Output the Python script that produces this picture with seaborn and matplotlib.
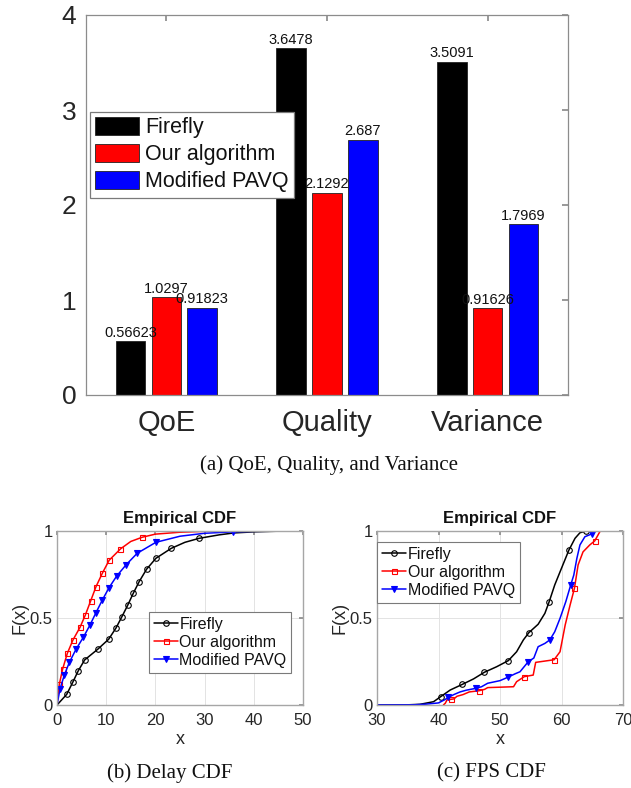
import numpy as np
import pandas as pd
import matplotlib
matplotlib.use('Agg')
import matplotlib.pyplot as plt
import seaborn as sns

# ---------------- data ----------------
metrics = ['QoE', 'Quality', 'Variance']
methods = ['Firefly', 'Our algorithm', 'Modified PAVQ']
firefly_vals = [0.56623, 3.6478, 3.5091]
ours_vals = [1.0297, 2.1292, 0.91626]
pavq_vals = [0.91823, 2.687, 1.7969]
bar_colors = ['#000000', '#ff0000', '#0000ff']

# Delay CDF (x, F) readings
delay_firefly_x = [0, 1.97, 3.19, 4.33, 5.62, 8.26, 10.5, 12.0, 13.2, 14.4, 15.5, 16.7, 18.2, 20.1, 23.2, 26.0, 28.9, 33, 36, 40, 45, 50]
delay_firefly_F = [0, 0.061, 0.130, 0.197, 0.259, 0.320, 0.378, 0.443, 0.508, 0.575, 0.642, 0.709, 0.780, 0.843, 0.900, 0.935, 0.958, 0.978, 0.989, 0.995, 0.999, 1.0]
delay_firefly_marks = [1, 2, 3, 4, 5, 6, 7, 8, 9, 10, 11, 12, 13, 14, 16]

delay_ours_x = [0, 0.47, 1.15, 2.10, 3.25, 4.67, 5.76, 6.84, 7.93, 9.21, 10.6, 12.9, 15, 17.3, 20, 25, 30, 40, 50]
delay_ours_F = [0, 0.119, 0.207, 0.297, 0.374, 0.446, 0.517, 0.598, 0.680, 0.757, 0.832, 0.897, 0.940, 0.964, 0.982, 0.993, 0.998, 1.0, 1.0]
delay_ours_marks = [1, 2, 3, 4, 5, 6, 7, 8, 9, 10, 11, 13]

delay_pavq_x = [0, 0.61, 1.49, 2.51, 3.86, 5.35, 6.71, 7.93, 9.21, 10.57, 12.13, 14.02, 16.3, 20.1, 25, 30, 35.8, 40, 50]
delay_pavq_F = [0, 0.092, 0.172, 0.245, 0.320, 0.389, 0.460, 0.531, 0.603, 0.674, 0.741, 0.805, 0.872, 0.935, 0.970, 0.987, 0.995, 0.998, 1.0]
delay_pavq_marks = [1, 2, 3, 4, 5, 6, 7, 8, 9, 10, 11, 12, 13, 16]

# FPS CDF (x, F) readings
fps_firefly_x = [30, 35, 37, 39.2, 40.36, 41.9, 43.9, 45.7, 47.45, 49.46, 51.35, 52.7, 53.8, 54.7, 56.2, 57.3, 58.0, 58.9, 60.0, 61.2, 62.2, 63.0, 64.0, 65.2]
fps_firefly_F = [0, 0.001, 0.004, 0.019, 0.048, 0.086, 0.119, 0.150, 0.188, 0.220, 0.255, 0.306, 0.374, 0.416, 0.464, 0.527, 0.594, 0.690, 0.786, 0.890, 0.958, 0.990, 1.0, 1.0]
fps_firefly_marks = [4, 6, 8, 10, 13, 16, 19, 22]

fps_ours_x = [40.8, 41.1, 41.4, 42.1, 42.5, 43, 44, 45, 46.6, 47.5, 48, 52.2, 52.7, 53.95, 55.4, 55.8, 58.8, 59.76, 60.6, 61.4, 62.1, 62.7, 63.5, 64.6, 65.4, 66.3]
fps_ours_F = [0, 0.01, 0.03, 0.033, 0.035, 0.05, 0.06, 0.075, 0.082, 0.09, 0.10, 0.105, 0.134, 0.163, 0.172, 0.245, 0.26, 0.306, 0.46, 0.575, 0.67, 0.805, 0.88, 0.92, 0.943, 1.0]
fps_ours_marks = [3, 8, 13, 16, 20, 24]

fps_pavq_x = [30, 36, 38, 40, 41, 41.6, 42.5, 43.5, 44.5, 46.1, 47, 48, 50, 51.25, 52.5, 53.25, 54.6, 55.5, 56.2, 57.3, 58.1, 58.9, 59.76, 60.7, 61.5, 62.0, 62.5, 63.0, 63.8, 64.9, 65.5]
fps_pavq_F = [0, 0.001, 0.005, 0.012, 0.03, 0.044, 0.06, 0.075, 0.085, 0.096, 0.105, 0.125, 0.14, 0.159, 0.18, 0.191, 0.249, 0.27, 0.335, 0.354, 0.374, 0.421, 0.498, 0.594, 0.69, 0.747, 0.843, 0.92, 0.967, 0.983, 1.0]
fps_pavq_marks = [5, 9, 13, 16, 20, 24, 29]

# ---------------- style ----------------
sns.set_theme(style='white')
plt.rcParams['font.family'] = ['Liberation Sans', 'DejaVu Sans']
TXT = '#262626'
SPINE = '#8c8c8c'

W, H = 631, 788
fig = plt.figure(figsize=(W / 100, H / 100), dpi=100)

def px_axes(l, t, r, b):
    return fig.add_axes([l / W, 1 - b / H, (r - l) / W, (b - t) / H])

# ---------------- top bar chart ----------------
ax = px_axes(86, 15, 568, 395)
df = pd.DataFrame({
    'metric': metrics * 3,
    'method': [methods[0]] * 3 + [methods[1]] * 3 + [methods[2]] * 3,
    'value': firefly_vals + ours_vals + pavq_vals,
})
sns.barplot(data=df, x='metric', y='value', hue='method', hue_order=methods,
            palette=bar_colors, saturation=1, width=0.667, gap=0.17,
            edgecolor='#222222', linewidth=0.6, errorbar=None, ax=ax)
for c in ax.containers:
    ax.bar_label(c, fmt='%.5g', fontsize=10.5, padding=1, color='#111111')
ax.set_xlim(-0.5, 2.5)
ax.set_ylim(0, 4)
ax.set_yticks([0, 1, 2, 3, 4])
ax.set_xlabel('')
ax.set_ylabel('')
ax.tick_params(axis='both', direction='in', length=4, color=SPINE, top=True, right=True,
               labelcolor=TXT)
ax.tick_params(axis='x', labelsize=21, pad=10)
ax.tick_params(axis='y', labelsize=19, pad=7)
for s in ax.spines.values():
    s.set_color(SPINE)
    s.set_linewidth(0.9)
handles, labels = ax.get_legend_handles_labels()
leg = ax.legend(handles, labels, loc='upper left', bbox_to_anchor=(0.008, 0.746),
                borderaxespad=0, fontsize=15.5, handlelength=2.05, handleheight=0.93,
                handletextpad=0.25, labelspacing=0.25, borderpad=0.25,
                frameon=True, fancybox=False, framealpha=1, edgecolor='#7a7a7a')
leg.get_frame().set_linewidth(0.9)
for t in leg.get_texts():
    t.set_color('#111111')

fig.text(329 / W, 1 - 465 / H, '(a) QoE, Quality, and Variance', ha='center', va='center',
         fontsize=15, family=['Liberation Serif', 'DejaVu Serif'], color='#111111')

# ---------------- CDF charts ----------------
def cdf_axes(l, r, series, xlim, xticks, legend_anchor):
    a = px_axes(l, 531, r, 705)
    for (xs, Fs, mk, col, m, mfc, ms, lab) in series:
        sns.lineplot(x=xs, y=Fs, ax=a, color=col, sort=False, estimator=None,
                     linewidth=1.1, marker=m, markevery=mk, markersize=ms,
                     markerfacecolor=mfc, markeredgecolor=col, markeredgewidth=0.8,
                     label=lab)
    a.set_xlim(*xlim)
    a.set_ylim(0, 1)
    a.set_xticks(xticks)
    a.set_yticks([0, 0.5, 1])
    a.set_yticklabels(['0', '0.5', '1'])
    a.grid(True, color='#e3e3e3', linewidth=0.7)
    a.set_axisbelow(True)
    a.tick_params(axis='both', direction='in', length=3, color=SPINE, top=True, right=True,
                  labelsize=12, labelcolor=TXT)
    a.tick_params(axis='y', pad=3)
    a.tick_params(axis='x', pad=6)
    for s in a.spines.values():
        s.set_color('#a6a6a6')
        s.set_linewidth(1.0)
    a.set_title('Empirical CDF', fontsize=12, fontweight='bold', color='#111111', pad=6)
    a.set_xlabel('x', fontsize=13, color=TXT, labelpad=2)
    a.set_ylabel('F(x)', fontsize=13, color=TXT, labelpad=1)
    h, lb = a.get_legend_handles_labels()
    lg = a.legend(h, lb, loc='upper left', bbox_to_anchor=legend_anchor, borderaxespad=0,
                  fontsize=11.5, handlelength=1.5, handletextpad=0.1, labelspacing=0.2,
                  borderpad=0.3, frameon=True, fancybox=False, framealpha=1,
                  edgecolor='#7a7a7a')
    lg.get_frame().set_linewidth(0.8)
    for t in lg.get_texts():
        t.set_color('#111111')
    return a

cdf_axes(57, 303, [
    (delay_firefly_x, delay_firefly_F, delay_firefly_marks, '#000000', 'o', 'none', 4, methods[0]),
    (delay_ours_x, delay_ours_F, delay_ours_marks, '#ff0000', 's', 'none', 3.6, methods[1]),
    (delay_pavq_x, delay_pavq_F, delay_pavq_marks, '#0000ff', 'v', '#0000ff', 5, methods[2]),
], (0, 50), [0, 10, 20, 30, 40, 50], (0.374, 0.536))

cdf_axes(377, 623, [
    (fps_firefly_x, fps_firefly_F, fps_firefly_marks, '#000000', 'o', 'none', 4, methods[0]),
    (fps_ours_x, fps_ours_F, fps_ours_marks, '#ff0000', 's', 'none', 3.6, methods[1]),
    (fps_pavq_x, fps_pavq_F, fps_pavq_marks, '#0000ff', 'v', '#0000ff', 5, methods[2]),
], (30, 70), [30, 40, 50, 60, 70], (0.002, 0.938))

fig.text(170 / W, 1 - 773 / H, '(b) Delay CDF', ha='center', va='center', fontsize=15,
         family=['Liberation Serif', 'DejaVu Serif'], color='#111111')
fig.text(491 / W, 1 - 773 / H, '(c) FPS CDF', ha='center', va='center', fontsize=15,
         family=['Liberation Serif', 'DejaVu Serif'], color='#111111')

fig.savefig('out.png', dpi=100)
